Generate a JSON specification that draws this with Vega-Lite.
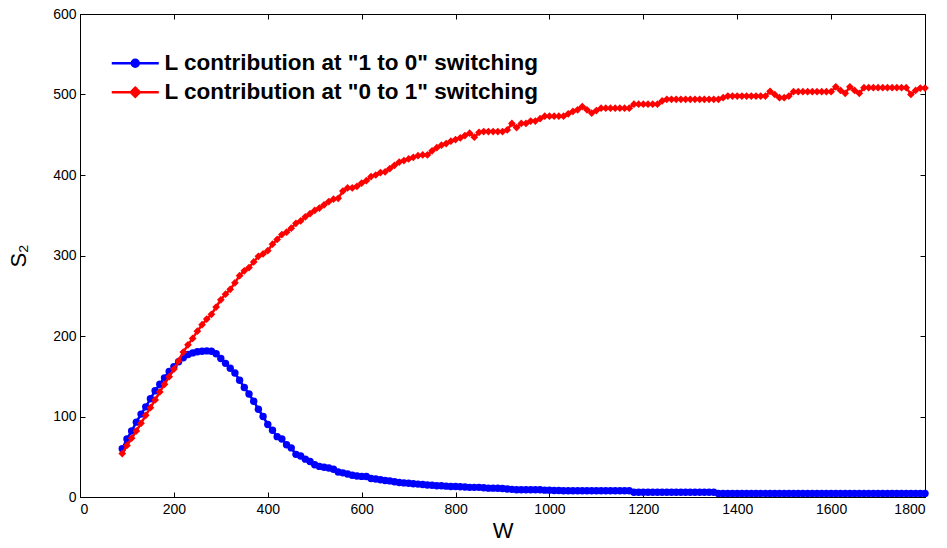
{
  "$schema": "https://vega.github.io/schema/vega-lite/v6.json",
  "width": 845,
  "height": 483,
  "autosize": {"type": "none"},
  "padding": {"left": 80, "top": 14, "right": 22, "bottom": 51},
  "background": "white",
  "config": {
    "view": {"stroke": "black", "strokeWidth": 1},
    "font": "Liberation Sans",
    "axis": {
      "grid": false,
      "domain": false,
      "tickColor": "black",
      "tickSize": -5,
      "tickWidth": 1,
      "labelFont": "Liberation Sans",
      "labelFontSize": 14,
      "labelColor": "black",
      "titleFont": "Liberation Sans",
      "titleFontSize": 22,
      "titleFontWeight": "normal",
      "titleColor": "black"
    }
  },
  "data": {"values": [
    {"W":90,"b":60,"r":54},{"W":100,"b":72,"r":64},{"W":110,"b":82,"r":73},{"W":120,"b":93,"r":82},
    {"W":130,"b":103,"r":91.5},{"W":140,"b":112,"r":101.5},{"W":150,"b":122,"r":111},{"W":160,"b":132,"r":120.5},
    {"W":170,"b":140,"r":130.5},{"W":180,"b":148,"r":140},{"W":190,"b":156,"r":149.5},{"W":200,"b":162,"r":159},
    {"W":210,"b":168,"r":169},{"W":220,"b":173,"r":180},{"W":230,"b":177,"r":189},{"W":240,"b":179,"r":197},
    {"W":250,"b":180.5,"r":206},{"W":260,"b":181,"r":214},{"W":270,"b":181.5,"r":221},{"W":280,"b":181,"r":227},
    {"W":290,"b":178,"r":236},{"W":300,"b":172,"r":245},{"W":310,"b":166,"r":252},{"W":320,"b":160,"r":258},
    {"W":330,"b":154,"r":266},{"W":340,"b":145,"r":275},{"W":350,"b":136,"r":281},{"W":360,"b":128,"r":285},
    {"W":370,"b":119,"r":292},{"W":380,"b":109,"r":299},{"W":390,"b":100,"r":302},{"W":400,"b":90,"r":306},
    {"W":410,"b":83,"r":314},{"W":420,"b":75,"r":320},{"W":430,"b":72,"r":326},{"W":440,"b":65,"r":329},
    {"W":450,"b":61,"r":334},{"W":460,"b":53,"r":340},{"W":470,"b":51,"r":343},{"W":480,"b":47,"r":348},
    {"W":490,"b":44,"r":352},{"W":500,"b":40,"r":356},{"W":510,"b":38,"r":359},{"W":520,"b":37,"r":363},
    {"W":530,"b":36,"r":367},{"W":540,"b":34.5,"r":370},{"W":550,"b":31,"r":371},{"W":560,"b":30,"r":380},
    {"W":570,"b":28.5,"r":384},{"W":580,"b":27,"r":384},{"W":590,"b":26,"r":386},{"W":600,"b":25.6,"r":390},
    {"W":610,"b":25.5,"r":393},{"W":620,"b":23,"r":398},{"W":630,"b":22.3,"r":400},{"W":640,"b":21.5,"r":403},
    {"W":650,"b":20.5,"r":404},{"W":660,"b":20,"r":408},{"W":670,"b":19,"r":412},{"W":680,"b":18,"r":416},
    {"W":690,"b":17.5,"r":418},{"W":700,"b":17,"r":420},{"W":710,"b":16.5,"r":422},{"W":720,"b":16,"r":424},
    {"W":730,"b":15.5,"r":425},{"W":740,"b":15,"r":425},{"W":750,"b":14.5,"r":430},{"W":760,"b":14,"r":434},
    {"W":770,"b":14,"r":437},{"W":780,"b":13.5,"r":439},{"W":790,"b":13,"r":442},{"W":800,"b":13,"r":444},
    {"W":810,"b":12.8,"r":446},{"W":820,"b":12.5,"r":449},{"W":830,"b":12,"r":452},{"W":840,"b":12,"r":447},
    {"W":850,"b":12,"r":453},{"W":860,"b":11.5,"r":454},{"W":870,"b":11,"r":454},{"W":880,"b":11,"r":454},
    {"W":890,"b":10.8,"r":454},{"W":900,"b":10.5,"r":454},{"W":910,"b":10,"r":456},{"W":920,"b":9.5,"r":464},
    {"W":930,"b":9,"r":459},{"W":940,"b":9,"r":464},{"W":950,"b":9,"r":464},{"W":960,"b":9,"r":467},
    {"W":970,"b":9,"r":467},{"W":980,"b":9,"r":470},{"W":990,"b":8.5,"r":473},{"W":1000,"b":8.5,"r":473},
    {"W":1010,"b":8,"r":473},{"W":1020,"b":8,"r":473},{"W":1030,"b":7.8,"r":473},{"W":1040,"b":7.8,"r":476},
    {"W":1050,"b":7.8,"r":479},{"W":1060,"b":7.8,"r":481},{"W":1070,"b":7.8,"r":485},{"W":1080,"b":7.8,"r":481},
    {"W":1090,"b":7.8,"r":477},{"W":1100,"b":7.8,"r":480},{"W":1110,"b":7.8,"r":483},{"W":1120,"b":7.8,"r":483},
    {"W":1130,"b":7.8,"r":483},{"W":1140,"b":7.8,"r":483},{"W":1150,"b":7.8,"r":483},{"W":1160,"b":7.8,"r":483},
    {"W":1170,"b":7.8,"r":483},{"W":1180,"b":6,"r":488},{"W":1190,"b":6,"r":488},{"W":1200,"b":6,"r":488},
    {"W":1210,"b":6,"r":488},{"W":1220,"b":6,"r":488},{"W":1230,"b":6,"r":488},{"W":1240,"b":6,"r":492},
    {"W":1250,"b":6,"r":494},{"W":1260,"b":6,"r":494},{"W":1270,"b":6,"r":494},{"W":1280,"b":6,"r":494},
    {"W":1290,"b":6,"r":494},{"W":1300,"b":6,"r":494},{"W":1310,"b":6,"r":494},{"W":1320,"b":6,"r":494},
    {"W":1330,"b":6,"r":494},{"W":1340,"b":6,"r":494},{"W":1350,"b":6,"r":494},{"W":1360,"b":4.5,"r":494},
    {"W":1370,"b":4.5,"r":496},{"W":1380,"b":4.5,"r":498},{"W":1390,"b":4.5,"r":498},{"W":1400,"b":4.5,"r":498},
    {"W":1410,"b":4.5,"r":498},{"W":1420,"b":4.5,"r":498},{"W":1430,"b":4.5,"r":498},{"W":1440,"b":4.5,"r":498},
    {"W":1450,"b":4.5,"r":498},{"W":1460,"b":4.5,"r":498},{"W":1470,"b":4.5,"r":504},{"W":1480,"b":4.5,"r":500},
    {"W":1490,"b":4.5,"r":496},{"W":1500,"b":4.5,"r":496},{"W":1510,"b":4.5,"r":498},{"W":1520,"b":4.5,"r":503.5},
    {"W":1530,"b":4.5,"r":503.5},{"W":1540,"b":4.5,"r":503.5},{"W":1550,"b":4.5,"r":503.5},{"W":1560,"b":4.5,"r":503.5},
    {"W":1570,"b":4.5,"r":503.5},{"W":1580,"b":4.5,"r":503.5},{"W":1590,"b":4.5,"r":503.5},{"W":1600,"b":4.5,"r":503.5},
    {"W":1610,"b":4.5,"r":509.5},{"W":1620,"b":4.5,"r":505},{"W":1630,"b":4.5,"r":501.5},{"W":1640,"b":4.5,"r":509.5},
    {"W":1650,"b":4.5,"r":505},{"W":1660,"b":4.5,"r":501.5},{"W":1670,"b":4.5,"r":508.5},{"W":1680,"b":4.5,"r":508.5},
    {"W":1690,"b":4.5,"r":508.5},{"W":1700,"b":4.5,"r":508.5},{"W":1710,"b":4.5,"r":508.5},{"W":1720,"b":4.5,"r":508.5},
    {"W":1730,"b":4.5,"r":508.5},{"W":1740,"b":4.5,"r":508.5},{"W":1750,"b":4.5,"r":508.5},{"W":1760,"b":4.5,"r":508.5},
    {"W":1770,"b":4.5,"r":500},{"W":1780,"b":4.5,"r":505},{"W":1790,"b":4.5,"r":508},{"W":1800,"b":4.5,"r":508}
  ]},
  "resolve": {"axis": {"x": "independent", "y": "independent"}},
  "layer": [
    {
      "mark": {"type": "line", "strokeWidth": 2.5},
      "encoding": {
        "x": {"field": "W", "type": "quantitative", "scale": {"domain": [0, 1800], "nice": false, "zero": false},
              "axis": {"orient": "bottom", "title": "W", "values": [0,200,400,600,800,1000,1200,1400,1600,1800], "format": "d", "labelPadding": 10, "titlePadding": 4}},
        "y": {"field": "b", "type": "quantitative", "scale": {"domain": [0, 600], "nice": false},
              "axis": {"orient": "left", "title": "S₂", "values": [0,100,200,300,400,500,600], "format": "d", "labelPadding": 9, "titlePadding": 22}},
        "color": {
          "datum": "L contribution at \"1 to 0\" switching",
          "scale": {"domain": ["L contribution at \"1 to 0\" switching", "L contribution at \"0 to 1\" switching"], "range": ["#0000ff", "#ff0000"]},
          "legend": {
            "title": null,
            "orient": "none",
            "legendX": 44,
            "legendY": 38,
            "padding": 0,
            "symbolSize": 100,
            "symbolStrokeWidth": 2.5,
            "labelFont": "Liberation Sans",
            "labelFontSize": 22.5,
            "labelFontWeight": "bold",
            "labelColor": "black",
            "labelOffset": 18,
            "rowPadding": 6,
            "labelLimit": 600,
            "encode": {
              "symbols": {
                "update": {
                  "shape": {"signal": "datum.index === 0 ? 'M-4.7,0H4.7M0.7,0A0.7,0.7,0,1,1,-0.7,0A0.7,0.7,0,1,1,0.7,0Z' : 'M-4.7,0H4.7M0,-0.9L0.9,0L0,0.9L-0.9,0Z'"},
                  "fill": {"scale": "color", "field": "value"},
                  "stroke": {"scale": "color", "field": "value"},
                  "strokeWidth": {"value": 2.5},
                  "opacity": {"value": 1},
                  "fillOpacity": {"value": 1},
                  "strokeOpacity": {"value": 1}
                }
              }
            }
          }
        }
      }
    },
    {
      "mark": {"type": "point", "shape": "circle", "filled": true, "size": 55, "opacity": 1},
      "encoding": {
        "x": {"field": "W", "type": "quantitative", "axis": null},
        "y": {"field": "b", "type": "quantitative", "axis": null},
        "color": {"datum": "L contribution at \"1 to 0\" switching"}
      }
    },
    {
      "mark": {"type": "line", "strokeWidth": 2.5},
      "encoding": {
        "x": {"field": "W", "type": "quantitative", "axis": null},
        "y": {"field": "r", "type": "quantitative", "axis": null},
        "color": {"datum": "L contribution at \"0 to 1\" switching"}
      }
    },
    {
      "mark": {"type": "point", "shape": "diamond", "filled": true, "size": 60, "opacity": 1},
      "encoding": {
        "x": {"field": "W", "type": "quantitative",
              "axis": {"orient": "top", "title": null, "labels": false, "values": [0,200,400,600,800,1000,1200,1400,1600,1800]}},
        "y": {"field": "r", "type": "quantitative",
              "axis": {"orient": "right", "title": null, "labels": false, "values": [0,100,200,300,400,500,600]}},
        "color": {"datum": "L contribution at \"0 to 1\" switching"}
      }
    }
  ]
}
